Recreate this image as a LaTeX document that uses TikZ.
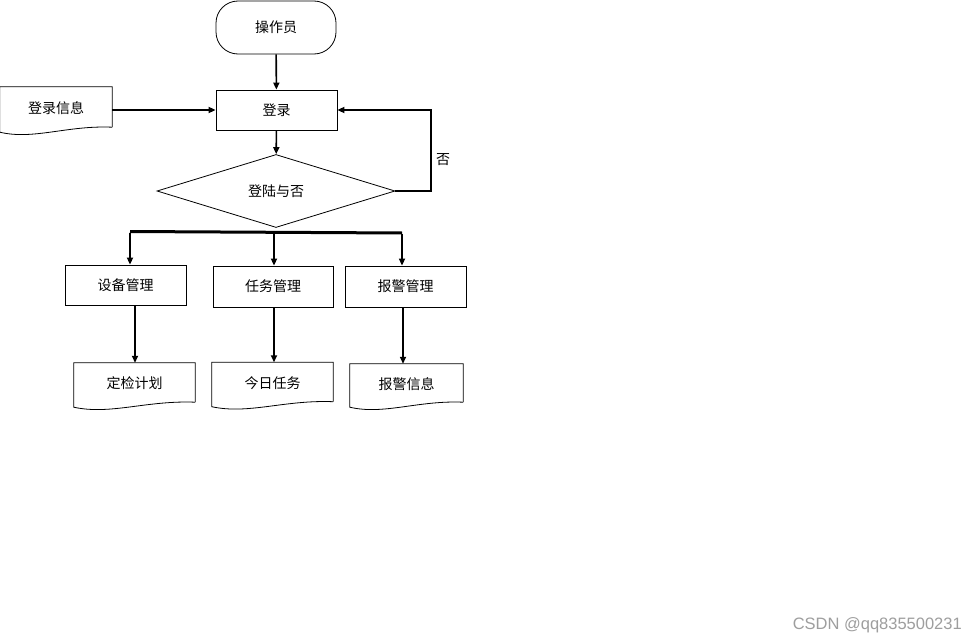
\documentclass[tikz,border=0pt]{standalone}
\usepackage{fontspec}
\newfontfamily\cjk{Noto Sans CJK SC}
\setsansfont{Liberation Sans}
\usetikzlibrary{shapes.geometric,arrows.meta,calc}
\newcommand\docpath[1]{%
  \draw[thin line] ([yshift=2pt]#1.south east) -- (#1.north east) -- (#1.north west) -- ([yshift=-3pt]#1.south west)
    .. controls ($(#1.south west)!0.3!(#1.south east)+(0,-11pt)$) and ($(#1.south west)!0.6!(#1.south east)+(0,4pt)$) .. ([yshift=2pt]#1.south east);}
\begin{document}
\begin{tikzpicture}[x=1pt,y=-1pt,
  lbl/.style={font=\cjk\fontsize{14}{16}\selectfont},
  thin line/.style={line width=0.8pt},
  box/.style={lbl,draw,thin line,inner sep=0pt,minimum width=121pt,minimum height=40pt},
  docbox/.style={lbl,inner sep=0pt,minimum width=121pt,minimum height=41pt},
  term/.style={lbl,draw,thin line,rounded corners=22pt,inner sep=0pt,minimum width=120pt,minimum height=53pt},
  dec/.style={lbl,draw,thin line,diamond,inner sep=0pt,aspect=3.26,minimum width=238pt,minimum height=73pt},
  arr/.style={line width=1.6pt,-{Triangle[length=7pt,width=6pt]}}
]
\useasboundingbox (0,0) rectangle (977,642);
\fill[white] (0,0) rectangle (977,642);

\node[term] (op) at (276,27.5) {操作员};
\node[box] (login) at (276.5,110) {登录};
\node[docbox,minimum width=112pt,minimum height=42pt] (info) at (56,108) {登录信息};
\node[dec] (dia) at (276,191) {登陆与否};

\node[box] (m1) at (125.5,285) {设备管理};
\node[box,minimum width=120pt,minimum height=41pt] (m2) at (273,286.5) {任务管理};
\node[box,minimum height=41pt] (m3) at (405.5,286.5) {报警管理};

\node[docbox] (d1) at (134.5,383.5) {定检计划};
\node[docbox] (d2) at (272.5,383) {今日任务};
\node[docbox,minimum width=113pt,minimum height=40pt] (d3) at (406.5,384) {报警信息};

\docpath{info}
\docpath{d1}
\docpath{d2}
\docpath{d3}

\draw[arr] (op) -- (login);
\draw[arr] (info.east |- login.west) -- (login.west);
\draw[arr] (login) -- (dia);

\coordinate (lp) at (431,0);
\draw[arr] (dia.east) -- (dia.east -| lp) -- (lp |- login.east) -- (login.east);
\node[lbl] (no) at (443,160) {否};

\coordinate (b1) at (130,231.5);
\coordinate (b2) at (274,232.5);
\coordinate (b3) at (402,233);
\draw[line width=3pt] (b1) -- (b3);
\draw[arr] ([yshift=-1pt]b1) -- (b1 |- m1.north);
\draw[arr] ([yshift=-1pt]b2) -- (b2 |- m2.north);
\draw[arr] ([yshift=-1pt]b3) -- (b3 |- m3.north);

\coordinate (c1) at (135,0);
\coordinate (c2) at (274,0);
\coordinate (c3) at (403,0);
\draw[arr] (c1 |- m1.south) -- (c1 |- d1.north);
\draw[arr] (c2 |- m2.south) -- (c2 |- d2.north);
\draw[arr] (c3 |- m3.south) -- (c3 |- d3.north);

\node[font=\sffamily\fontsize{16.5}{19}\selectfont,text=black!38,anchor=east,inner sep=0pt] (wm) at (962,625) {CSDN @qq835500231};
\end{tikzpicture}
\end{document}
